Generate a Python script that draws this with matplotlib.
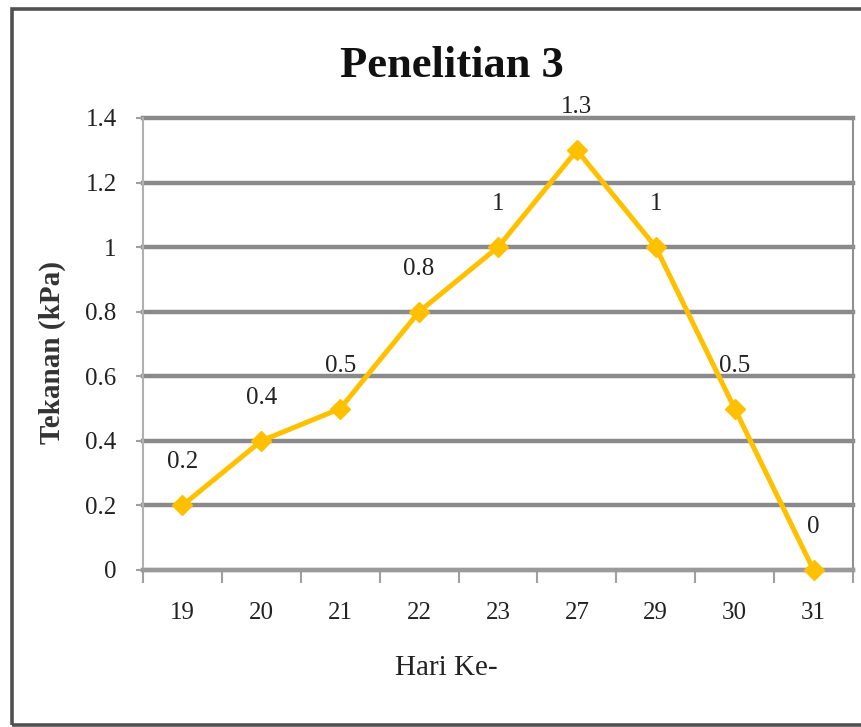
import matplotlib
matplotlib.use("Agg")
import matplotlib.pyplot as plt
from matplotlib.patches import Rectangle

# Data: tekanan per hari (Penelitian 3)
hari = ['19', '20', '21', '22', '23', '27', '29', '30', '31']
tekanan = [0.2, 0.4, 0.5, 0.8, 1, 1.3, 1, 0.5, 0]
label_tekanan = ['0.2', '0.4', '0.5', '0.8', '1', '1.3', '1', '0.5', '0']
y_ticks = [0, 0.2, 0.4, 0.6, 0.8, 1, 1.2, 1.4]
y_ticklabels = ['0', '0.2', '0.4', '0.6', '0.8', '1', '1.2', '1.4']

plt.rcParams['font.family'] = ['Liberation Serif', 'DejaVu Serif']

W, H = 861, 727
fig = plt.figure(figsize=(W / 100, H / 100), dpi=100)

def fx(px):
    return px / W

def fy(py):
    return 1 - py / H

# outer chart frame
fig.add_artist(Rectangle((fx(12), fy(725)), fx(900) - fx(12), fy(9) - fy(725),
                         transform=fig.transFigure, fill=False,
                         edgecolor='#505050', linewidth=2.6, clip_on=True))

ax = fig.add_axes([fx(143), fy(570), fx(853) - fx(143), fy(118) - fy(570)])

x = list(range(len(hari)))
ax.plot(x, tekanan, color='#FFC000', linewidth=3.6, marker='D',
        markersize=10, zorder=5, clip_on=False)

for xi, v, lab in zip(x, tekanan, label_tekanan):
    ax.annotate(lab, (xi, v), xytext=(0, 31), textcoords='offset points',
                ha='center', va='center', fontsize=18, color='#222222')

ax.set_xlim(-0.5, len(hari) - 0.5)
ax.set_ylim(0, 1.4)

ax.set_yticks(y_ticks)
ax.set_yticklabels(y_ticklabels)
ax.yaxis.grid(True, color='#8a8a8a', linewidth=3.2)
for gl in ax.get_ygridlines():
    gl.set_clip_on(False)
ax.set_axisbelow(True)

# category ticks sit between the day labels
ax.set_xticks([i - 0.5 for i in range(len(hari) + 1)])
ax.set_xticklabels([])
ax.set_xticks(x, minor=True)
ax.set_xticklabels(hari, minor=True)
ax.tick_params(axis='x', which='major', length=9, width=1.5, color='#a0a0a0',
               direction='out')
ax.tick_params(axis='x', which='minor', length=0, pad=23, labelsize=18,
               labelcolor='#222222')
ax.tick_params(axis='y', length=5, width=1.5, color='#a0a0a0', pad=14,
               labelsize=18, labelcolor='#222222')

ax.spines['top'].set_visible(False)
ax.spines['left'].set_color('#b0b0b0')
ax.spines['left'].set_linewidth(1.5)
ax.spines['right'].set_color('#909090')
ax.spines['right'].set_linewidth(1.5)
ax.spines['bottom'].set_color('#9a9a9a')
ax.spines['bottom'].set_linewidth(3)

fig.text(fx(452), fy(66), 'Penelitian 3', ha='center', va='center',
         fontsize=32, fontweight='bold', color='#111111')
fig.text(fx(446), fy(668), 'Hari Ke-', ha='center', va='center',
         fontsize=21, color='#222222')
fig.text(fx(52), fy(352), 'Tekanan (kPa)', ha='center', va='center',
         rotation=90, fontsize=21, fontweight='bold', color='#333333')

fig.savefig('out.png', dpi=100)
